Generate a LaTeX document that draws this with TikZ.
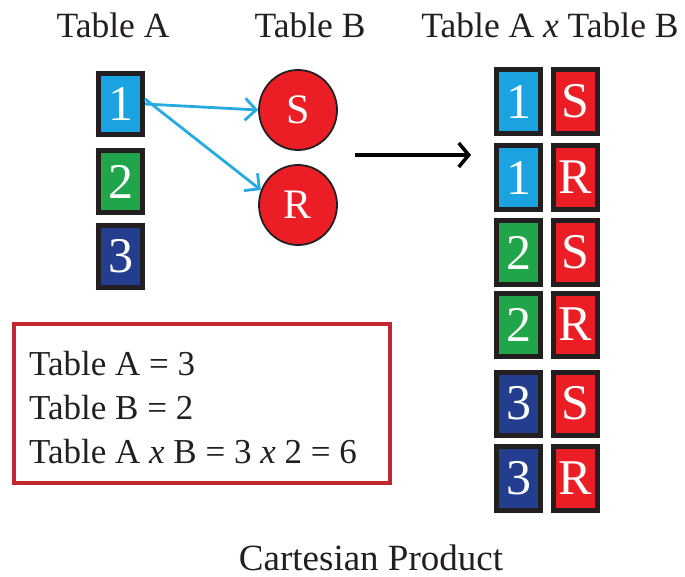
\documentclass[tikz,border=0pt]{standalone}
\usepackage{fontspec}
\setmainfont{Liberation Serif}
\usetikzlibrary{arrows.meta,shapes.geometric,positioning}
\definecolor{cblue}{HTML}{1AA3E0}
\definecolor{cgreen}{HTML}{21A54A}
\definecolor{cnavy}{HTML}{243D8E}
\definecolor{cred}{HTML}{EC1E25}
\definecolor{cdark}{HTML}{231F20}
\definecolor{cframe}{HTML}{C1272D}
\definecolor{carrow}{HTML}{27AAE1}
\tikzset{
  cell/.style={rectangle,draw=cdark,line width=5pt,minimum width=44pt,minimum height=62pt,inner sep=0pt,text=white,font=\fontsize{50}{50}\selectfont},
  bluecell/.style={cell,fill=cblue},
  greencell/.style={cell,fill=cgreen},
  navycell/.style={cell,fill=cnavy},
  redcell/.style={cell,fill=cred},
  ball/.style={ellipse,draw=cdark,line width=1.8pt,fill=cred,minimum width=78pt,minimum height=80pt,inner sep=0pt,text=white,font=\fontsize{42}{42}\selectfont},
  title/.style={font=\fontsize{35.5}{35.5}\selectfont,text=cdark,inner sep=0pt},
  link/.style={draw=carrow,line width=2.8pt,-{Straight Barb[length=11pt,width=22pt,line width=2.8pt]}},
  bigarrow/.style={draw=black,line width=4.5pt,-{Straight Barb[length=10pt,width=24pt,line width=3.5pt]}}
}
\begin{document}
\begin{tikzpicture}[x=1pt,y=-1pt]
\useasboundingbox (0,0) rectangle (685,577);
% titles
\node[title] (tA) at (113,25) {Table A};
\node[title] (tB) at (310,25) {Table B};
\node[title] (tAB) at (550,25) {Table A \textit{x} Table B};
% table A
\node[bluecell,minimum height=61pt] (a1) at (120.5,104) {1};
\node[greencell] (a2) at (120.5,181.5) {2};
\node[navycell] (a3) at (120.5,256.5) {3};
% table B
\node[ball] (bS) at (298,110) {S};
\node[ball] (bR) at (298,205) {R};
% links
\draw[link] (a1.east) -- (bS.west);
\draw[link] ([yshift=5pt]a1.east) -- (bR.158);
% big arrow
\coordinate (p0) at (355,155);
\coordinate (p1) at (471,155);
\draw[bigarrow] (p0) -- (p1);
% product
\node[bluecell,minimum height=64pt] (r1a) at (518.5,101.5) {1};
\node[redcell,minimum height=64pt] (r1b) at (575,101.5) {S};
\node[bluecell,minimum height=64pt] (r2a) at (518.5,177.5) {1};
\node[redcell,minimum height=64pt] (r2b) at (575,177.5) {R};
\node[greencell,minimum height=64pt] (r3a) at (518.5,252.5) {2};
\node[redcell,minimum height=64pt] (r3b) at (575,252.5) {S};
\node[greencell,minimum height=63pt] (r4a) at (518.5,324.5) {2};
\node[redcell,minimum height=63pt] (r4b) at (575,324.5) {R};
\node[navycell,minimum height=63pt] (r5a) at (518.5,403.5) {3};
\node[redcell,minimum height=63pt] (r5b) at (575,403.5) {S};
\node[navycell,minimum height=64pt] (r6a) at (518.5,478.5) {3};
\node[redcell,minimum height=64pt] (r6b) at (575,478.5) {R};
% frame
\node[draw=cframe,line width=4pt,minimum width=376pt,minimum height=159pt,inner sep=0pt] (frame) at (202,403.5) {};
\node[anchor=west,align=left,inner sep=0pt,font=\fontsize{35}{44}\selectfont,text=cdark] (eqs) at (29,408) {Table A = 3\\Table B = 2\\Table A \textit{x} B = 3 \textit{x} 2 = 6};
% caption
\node[title,font=\fontsize{37}{37}\selectfont,anchor=base] (cap) at (371,570) {Cartesian Product};
\end{tikzpicture}
\end{document}
